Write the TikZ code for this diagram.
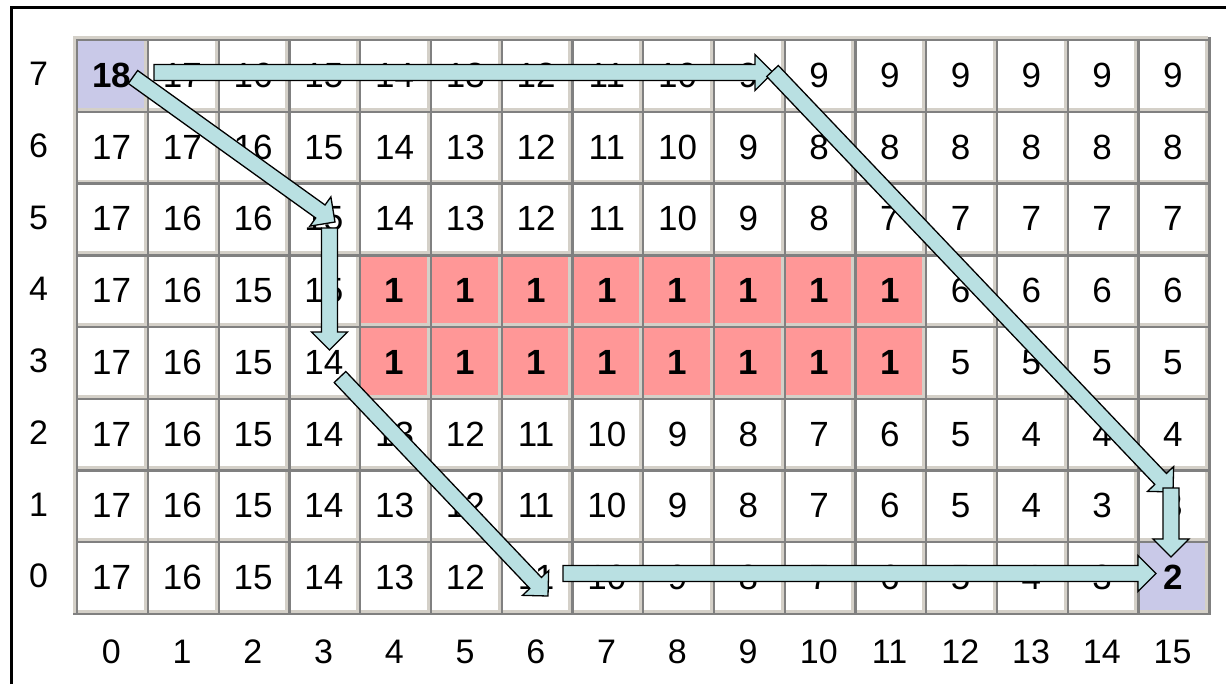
\documentclass[tikz,border=0pt]{standalone}
\usepackage{fontspec}
\setmainfont{Liberation Sans}
\usetikzlibrary{calc}
\definecolor{gridshadow}{HTML}{808080}
\definecolor{gridlight}{HTML}{D4D0C8}
\definecolor{cellend}{HTML}{C9C9E8}
\definecolor{cellwall}{HTML}{FF9797}
\definecolor{flowfill}{HTML}{B9E0E2}
\newcommand{\cellsize}{\fontsize{35}{42}\selectfont}
\tikzset{
  cellbase/.style={rectangle, anchor=north west, minimum width=70.75pt,
    minimum height=71.7pt, inner sep=0pt, text=black,
    text height=25pt, text depth=0pt},
  axislabel/.style={font=\fontsize{34}{40}\selectfont, text=black, inner sep=0pt,
    text height=24pt, text depth=0pt},
  cellshadow/.style={draw=gridshadow, line width=2.4pt},
  celllight/.style={draw=gridlight, line width=2.8pt},
  flowbody/.style={draw=black, fill=flowfill, line width=1.3pt, line join=miter},
  frameline/.style={draw=black, line width=2.8pt}
}
% block arrow between two named points
\newcommand{\flowarrow}[2]{%
  \coordinate (fa-h) at ($(#2)!18pt!(#1)$);
  \draw[flowbody] ($(#1)!8pt!90:(#2)$) -- ($(fa-h)!8pt!90:(#2)$)
    -- ($(fa-h)!18pt!90:(#2)$) -- (#2) -- ($(fa-h)!18pt!-90:(#2)$)
    -- ($(fa-h)!8pt!-90:(#2)$) -- ($(#1)!8pt!-90:(#2)$) -- cycle;
}

\begin{document}
\begin{tikzpicture}[x=1pt,y=-1pt]
  \useasboundingbox (0,0) rectangle (1226,685);
  \draw[frameline] (11.4,684) -- (11.4,7.4) -- (1226,7.4);

  % grid of distance values, top row first
  \foreach \r/\vals in {
      7/{18,17,16,15,14,13,12,11,10,9,9,9,9,9,9,9},
      6/{17,17,16,15,14,13,12,11,10,9,8,8,8,8,8,8},
      5/{17,16,16,15,14,13,12,11,10,9,8,7,7,7,7,7},
      4/{17,16,15,15,1,1,1,1,1,1,1,1,6,6,6,6},
      3/{17,16,15,14,1,1,1,1,1,1,1,1,5,5,5,5},
      2/{17,16,15,14,13,12,11,10,9,8,7,6,5,4,4,4},
      1/{17,16,15,14,13,12,11,10,9,8,7,6,5,4,3,3},
      0/{17,16,15,14,13,12,11,10,9,8,7,6,5,4,3,2}} {
    \foreach \v [count=\c from 0] in \vals {
      \pgfmathsetmacro{\cx}{76+70.75*\c}
      \pgfmathsetmacro{\cy}{39+71.7*(7-\r)}
      \def\cellfill{white}\def\cellweight{\mdseries}
      \ifnum\v=1 \def\cellfill{cellwall}\def\cellweight{\bfseries}\fi
      \ifnum\c=0 \ifnum\r=7 \def\cellfill{cellend}\def\cellweight{\bfseries}\fi\fi
      \ifnum\c=15 \ifnum\r=0 \def\cellfill{cellend}\def\cellweight{\bfseries}\fi\fi
      \node[cellbase, fill=\cellfill, font=\cellsize\cellweight] (c-\c-\r)
        at (\cx,\cy) {\v};
      \draw[celllight] ({\cx+69.35},{\cy}) -- ({\cx+69.35},{\cy+70.3}) -- ({\cx},{\cy+70.3});
      \draw[cellshadow] ({\cx+1.2},{\cy+71.7}) -- ({\cx+1.2},{\cy+1.2}) -- ({\cx+70.75},{\cy+1.2});
    }
  }
  \draw[celllight] (74.7,612.7) -- (74.7,37.7) -- (1208,37.7);
  \draw[cellshadow] (1209.5,37) -- (1209.5,613.9) -- (73.4,613.9);

  % axis numbers
  \foreach \r in {0,...,7}
    \node[axislabel] (row-\r) at (38.5,{39+71.7*(7.5-\r)-1}) {\r};
  \foreach \c in {0,...,15}
    \node[axislabel] (col-\c) at ({76+70.75*(\c+0.5)},651) {\c};

  % path arrows
  \coordinate (top-in) at (154,72.5);
  \coordinate (top-out) at (773,72.5);
  \coordinate (dia-in) at (133,77);
  \coordinate (dia-out) at (335,222);
  \coordinate (col3-in) at (329.5,228);
  \coordinate (col3-out) at (329.5,350);
  \coordinate (low-in) at (340,377);
  \coordinate (low-out) at (548,596);
  \coordinate (bot-in) at (563,573.5);
  \coordinate (bot-out) at (1156,573.5);
  \coordinate (right-in) at (772.5,71);
  \coordinate (right-out) at (1173,492);
  \coordinate (last-in) at (1171,488);
  \coordinate (last-out) at (1171,557);
  \flowarrow{top-in}{top-out}
  \flowarrow{dia-in}{dia-out}
  \flowarrow{col3-in}{col3-out}
  \flowarrow{low-in}{low-out}
  \flowarrow{bot-in}{bot-out}
  \flowarrow{right-in}{right-out}
  \flowarrow{last-in}{last-out}
\end{tikzpicture}
\end{document}
